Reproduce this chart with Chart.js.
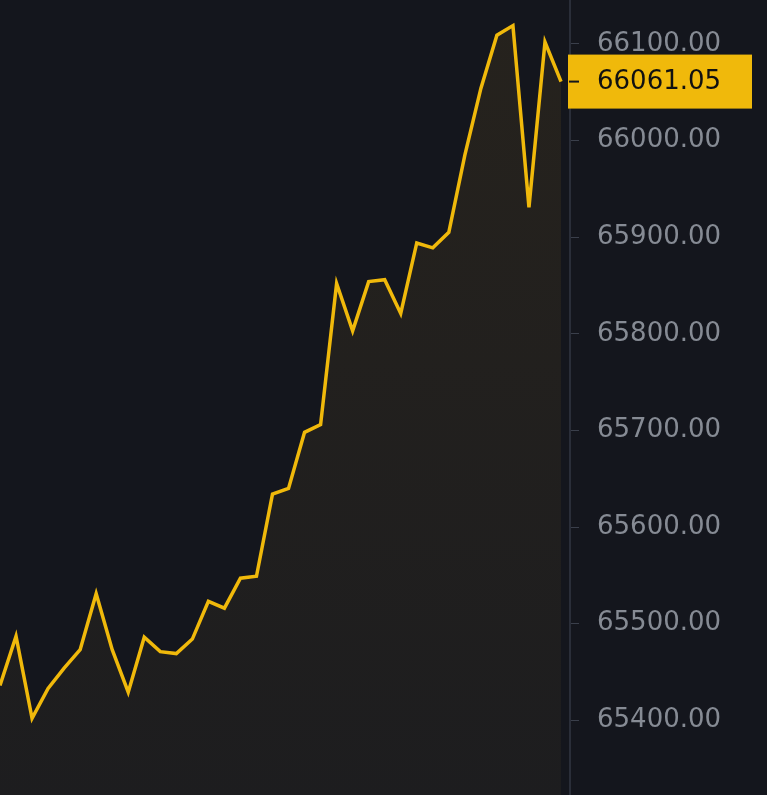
<!DOCTYPE html>
<html><head><meta charset="utf-8">
<script src="https://cdn.jsdelivr.net/npm/chart.js@4"></script>
<style>html,body{margin:0;padding:0;background:#14161d;}#w{width:767px;height:795px;}</style>
</head><body><div id="w"><canvas id="c"></canvas></div>
<script>
const prices = [65436,65487,65402,65433,65454,65473,65531,65473,65429,65486,65471,65469,65484,65523,65516,65547,65549,65634,65640,65698,65706,65852,65803,65854,65856,65821,65894,65889,65905,65985,66054,66109,66119,65931,66102,66061.05];
const tickValues = [65400,65500,65600,65700,65800,65900,66000,66100];
const lastPrice = 66061.05;

const tagPlugin = {
  id:'tag',
  afterDraw(chart){
    const ctx=chart.ctx, y=chart.scales.y.getPixelForValue(lastPrice);
    ctx.save();
    ctx.fillStyle='#f0b90b';
    ctx.fillRect(568,y-27,184,54);
    ctx.fillStyle='#14161d';
    ctx.fillRect(569,y-1,10,2);
    ctx.font='26px "DejaVu Sans"';
    ctx.textBaseline='middle';
    ctx.fillStyle='#111';
    ctx.fillText(lastPrice.toFixed(2),597,y+1);
    ctx.restore();
  }
};

new Chart(document.getElementById('c'),{
  type:'line',
  data:{datasets:[{
    data:prices.map((v,i)=>({x:i,y:v})),
    borderColor:'#f0b90b',borderWidth:3.5,pointRadius:0,tension:0,
    fill:'start',
    backgroundColor:(c)=>{const a=c.chart.chartArea;if(!a)return 'rgba(0,0,0,0)';const g=c.chart.ctx.createLinearGradient(0,a.top,0,a.bottom);g.addColorStop(0,'rgba(40,36,30,0.9)');g.addColorStop(1,'rgba(30,30,32,0.9)');return g;}
  }]},
  options:{
    responsive:true,maintainAspectRatio:false,animation:false,
    layout:{padding:{top:-16,bottom:-16,left:0,right:0}},
    plugins:{legend:{display:false},tooltip:{enabled:false}},
    scales:{
      x:{type:'linear',min:0,max:35.56,display:false},
      y:{position:'right',min:65322.6,max:66145.5,
        afterBuildTicks:(s)=>{s.ticks=tickValues.map(v=>({value:v}));},
        afterFit:(s)=>{s.width=197;s.paddingTop=0;s.paddingBottom=0;},
        border:{color:'#2a2e39',width:2},
        grid:{drawOnChartArea:false,tickLength:9,color:'#3a3f4b'},
        ticks:{color:'#868b94',padding:18,font:{size:26,family:'DejaVu Sans'},callback:(v)=>v.toFixed(2)}
      }
    }
  },
  plugins:[tagPlugin]
});
</script></body></html>
